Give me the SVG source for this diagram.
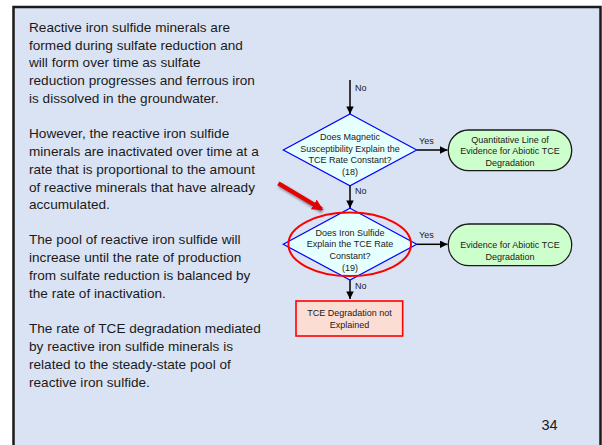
<svg xmlns="http://www.w3.org/2000/svg" width="602" height="445" viewBox="0 0 602 445">
  <style>
    .body { font-family: "Liberation Sans", Arial, sans-serif; font-size: 13.6px; fill: #1a1a1a; }
    .lbl { font-family: "Liberation Sans", Arial, sans-serif; font-size: 9px; fill: #1a1a1a; text-anchor: middle; }
    .edge { font-family: "Liberation Sans", Arial, sans-serif; font-size: 9px; fill: #1a1a1a; }
    .decision { fill: #E6FFFF; stroke: #0000FF; stroke-width: 1.2; }
    .terminal { fill: #CCFFCC; stroke: #1a1a1a; stroke-width: 1.3; }
    .stop { fill: #FBDDD3; stroke: #FF0000; stroke-width: 1.6; }
    .link { stroke: #000; stroke-width: 1.5; fill: none; marker-end: url(#head); }
  </style>
  <defs>
    <marker id="head" viewBox="0 0 10 10" refX="10" refY="5" markerWidth="8" markerHeight="7.5" markerUnits="userSpaceOnUse" orient="auto">
      <path d="M0,0 L10,5 L0,10 z" fill="#000"/>
    </marker>
    <marker id="redhead" viewBox="0 0 10 10" refX="8" refY="5" markerWidth="2.6" markerHeight="2.6" orient="auto">
      <path d="M0,0 L10,5 L0,10 z" fill="#E00000"/>
    </marker>
    <filter id="soft" x="-20%" y="-20%" width="140%" height="140%">
      <feGaussianBlur stdDeviation="0.8"/>
    </filter>
  </defs>

  <!-- page -->
  <rect x="0" y="0" width="602" height="445" fill="#FFFFFF"/>
  <rect x="13.5" y="7" width="587" height="460" fill="#DAE3F3" stroke="#1a1a1a" stroke-width="2.5"/>

  <!-- explanatory text -->
  <g id="notes" class="body">
    <text x="29" y="31.7">Reactive iron sulfide minerals are</text>
    <text x="29" y="49.5">formed during sulfate reduction and</text>
    <text x="29" y="67.3">will form over time as sulfate</text>
    <text x="29" y="85.1">reduction progresses and ferrous iron</text>
    <text x="29" y="102.9">is dissolved in the groundwater.</text>

    <text x="29" y="138.4">However, the reactive iron sulfide</text>
    <text x="29" y="156.4">minerals are inactivated over time at a</text>
    <text x="29" y="173.7">rate that is proportional to the amount</text>
    <text x="29" y="191.7">of reactive minerals that have already</text>
    <text x="29" y="209.4">accumulated.</text>

    <text x="29" y="244.4">The pool of reactive iron sulfide will</text>
    <text x="29" y="262.4">increase until the rate of production</text>
    <text x="29" y="280.4">from sulfate reduction is balanced by</text>
    <text x="29" y="298.4">the rate of inactivation.</text>

    <text x="29" y="333.4">The rate of TCE degradation mediated</text>
    <text x="29" y="351.4">by reactive iron sulfide minerals is</text>
    <text x="29" y="369.4">related to the steady-state pool of</text>
    <text x="29" y="387.4">reactive iron sulfide.</text>
  </g>

  <!-- connectors -->
  <g id="connectors">
    <line class="link" x1="350" y1="80" x2="350" y2="114"/>
    <line class="link" x1="350" y1="186" x2="350" y2="208"/>
    <line class="link" x1="350" y1="280" x2="350" y2="299"/>
    <line class="link" x1="416.7" y1="150" x2="447.5" y2="150"/>
    <line class="link" x1="416.7" y1="244.3" x2="447.5" y2="244.3"/>
    <text class="edge" x="355" y="90.5">No</text>
    <text class="edge" x="355" y="194">No</text>
    <text class="edge" x="355" y="289.2">No</text>
    <text class="edge" x="419" y="144.2">Yes</text>
    <text class="edge" x="419" y="238.2">Yes</text>
  </g>

  <!-- decision 18 -->
  <g id="q18">
    <polygon class="decision" points="350,114 416.7,150 350,185.8 283.3,150"/>
    <text class="lbl" x="350" y="139.5">Does Magnetic</text>
    <text class="lbl" x="350" y="151.5">Susceptibility Explain the</text>
    <text class="lbl" x="350" y="163.3">TCE Rate Constant?</text>
    <text class="lbl" x="350" y="175">(18)</text>
  </g>

  <!-- outcome: quantitative evidence -->
  <g id="quantitative">
    <rect class="terminal" x="448.3" y="130" width="123.4" height="40.7" rx="20.3"/>
    <text class="lbl" x="510" y="142.5">Quantitative Line of</text>
    <text class="lbl" x="510" y="154.2">Evidence for Abiotic TCE</text>
    <text class="lbl" x="510" y="165.8">Degradation</text>
  </g>

  <!-- decision 19 -->
  <g id="q19">
    <polygon class="decision" points="350,208.3 416.7,244.3 350,280 283.3,244.3"/>
    <text class="lbl" x="350" y="235.5">Does Iron Sulfide</text>
    <text class="lbl" x="350" y="247.3">Explain the TCE Rate</text>
    <text class="lbl" x="350" y="258.8">Constant?</text>
    <text class="lbl" x="350" y="270.7">(19)</text>
  </g>

  <!-- outcome: abiotic evidence -->
  <g id="abiotic">
    <rect class="terminal" x="448.3" y="224" width="123.4" height="41.7" rx="20.8"/>
    <text class="lbl" x="510" y="248.3">Evidence for Abiotic TCE</text>
    <text class="lbl" x="510" y="260">Degradation</text>
  </g>

  <!-- outcome: not explained -->
  <g id="unexplained">
    <rect class="stop" x="296" y="301" width="106.7" height="35"/>
    <text class="lbl" x="349.5" y="316">TCE Degradation not</text>
    <text class="lbl" x="349.5" y="328.2">Explained</text>
  </g>

  <!-- highlight on decision 19 -->
  <g id="highlight">
    <ellipse cx="349.7" cy="244.3" rx="61.3" ry="31.8" fill="none" stroke="#FF0000" stroke-width="2"/>
    <line x1="279.5" y1="185" x2="322.5" y2="211" stroke="#404a5a" stroke-width="5" opacity="0.55" filter="url(#soft)"/>
    <line x1="278.3" y1="183.3" x2="321.5" y2="209" stroke="#E80000" stroke-width="4.3" marker-end="url(#redhead)"/>
  </g>

  <!-- page number -->
  <text x="549.5" y="430" class="body" style="font-size:14.5px; text-anchor:middle">34</text>
</svg>
